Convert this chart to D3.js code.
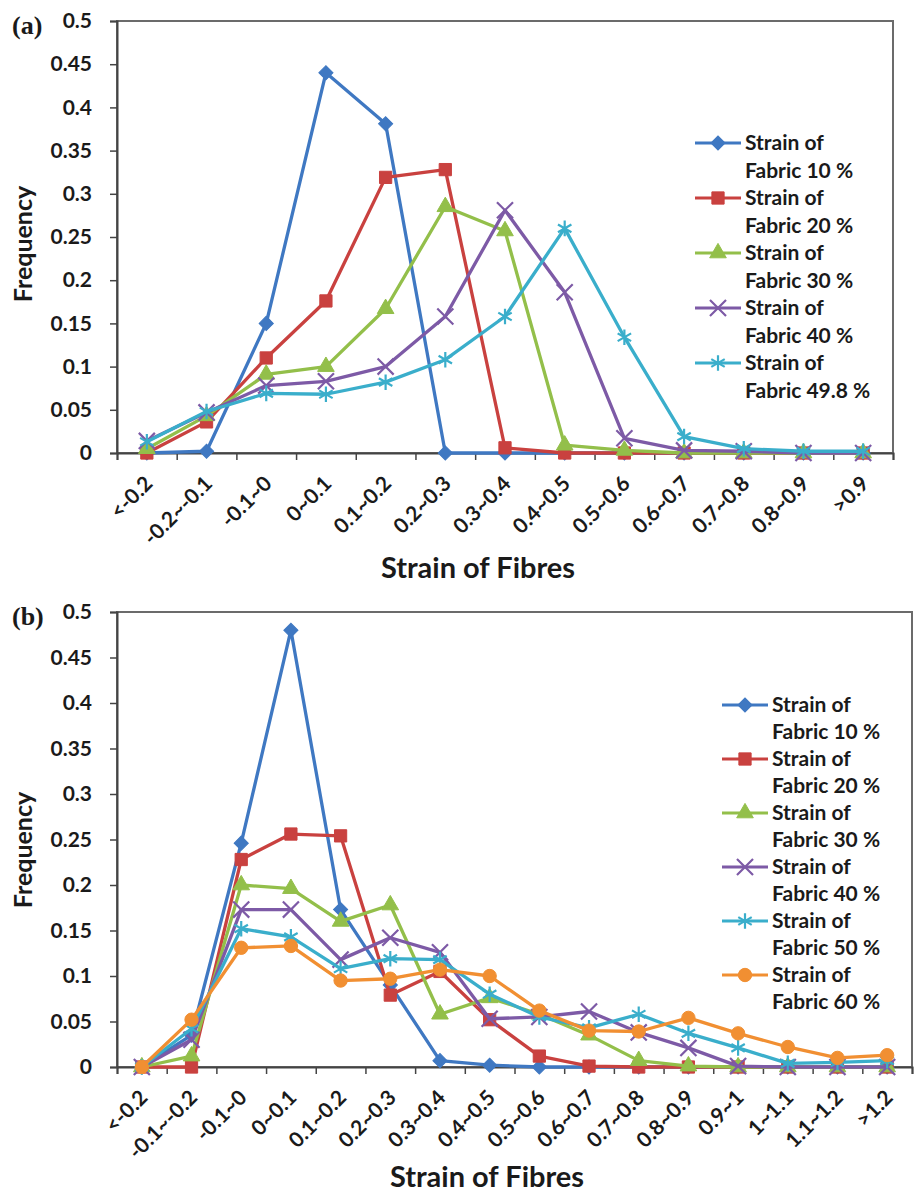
<!DOCTYPE html>
<html><head><meta charset="utf-8">
<script src="https://cdn.jsdelivr.net/npm/d3@7"></script>
<style>
html,body{margin:0;padding:0;background:#fff;}
svg{display:block;}
text{font-family:Lato, "Open Sans", sans-serif;fill:#1a1a1a;}
</style></head>
<body>
<svg id="chart" width="915" height="1192"></svg>
<script>
// ---------- data ----------
const catsA = ["<-0.2","-0.2~-0.1","-0.1~0","0~0.1","0.1~0.2","0.2~0.3","0.3~0.4","0.4~0.5","0.5~0.6","0.6~0.7","0.7~0.8","0.8~0.9",">0.9"];
const catsB = ["<-0.2","-0.1~-0.2","-0.1~0","0~0.1","0.1~0.2","0.2~0.3","0.3~0.4","0.4~0.5","0.5~0.6","0.6~0.7","0.7~0.8","0.8~0.9","0.9~1","1~1.1","1.1~1.2",">1.2"];
const yTickValues = [0,0.05,0.1,0.15,0.2,0.25,0.3,0.35,0.4,0.45,0.5];
const yTickLabels = ["0","0.05","0.1","0.15","0.2","0.25","0.3","0.35","0.4","0.45","0.5"];

const namesA = ["Fabric 10 %","Fabric 20 %","Fabric 30 %","Fabric 40 %","Fabric 49.8 %"];
const a10  = [0, 0.002, 0.15, 0.44, 0.381, 0, 0, 0, 0, 0, 0, 0, 0];
const a20  = [0, 0.036, 0.11, 0.176, 0.319, 0.328, 0.006, 0, 0, 0, 0, 0, 0];
const a30  = [0.005, 0.043, 0.091, 0.1, 0.167, 0.285, 0.257, 0.009, 0.003, 0, 0, 0, 0];
const a40  = [0.014, 0.047, 0.078, 0.083, 0.1, 0.158, 0.281, 0.186, 0.017, 0.003, 0.002, 0, 0];
const a498 = [0.013, 0.048, 0.069, 0.068, 0.082, 0.108, 0.158, 0.26, 0.134, 0.019, 0.005, 0.002, 0.002];

const namesB = ["Fabric 10 %","Fabric 20 %","Fabric 30 %","Fabric 40 %","Fabric 50 %","Fabric 60 %"];
const b10 = [0, 0.035, 0.246, 0.48, 0.173, 0.09, 0.007, 0.002, 0, 0, 0, 0, 0, 0, 0, 0];
const b20 = [0, 0, 0.228, 0.256, 0.254, 0.079, 0.105, 0.052, 0.012, 0.001, 0, 0, 0, 0, 0, 0];
const b30 = [0, 0.012, 0.2, 0.196, 0.16, 0.178, 0.058, 0.076, 0.058, 0.035, 0.007, 0.001, 0, 0, 0, 0];
const b40 = [0, 0.03, 0.173, 0.173, 0.118, 0.142, 0.126, 0.053, 0.055, 0.061, 0.038, 0.021, 0.001, 0, 0, 0];
const b50 = [0, 0.042, 0.152, 0.143, 0.108, 0.119, 0.118, 0.08, 0.055, 0.043, 0.058, 0.037, 0.021, 0.004, 0.005, 0.007];
const b60 = [0, 0.052, 0.131, 0.133, 0.095, 0.097, 0.107, 0.1, 0.062, 0.04, 0.039, 0.054, 0.037, 0.022, 0.01, 0.013];

const colors  = ["#3f78c2","#c9413f","#93bf4a","#7d5aa6","#3aaecb","#f18f32"];
const markers = ["diamond","square","triangle","times","asterisk","circle"];

// ---------- drawing ----------
const svg = d3.select("#chart");

function marker(g, type, color) {
  let gen, filled = true, rot = 0;
  if (type === "diamond") { gen = d3.symbol(d3.symbolSquare, 100); rot = 45; }
  else if (type === "square") gen = d3.symbol(d3.symbolSquare, 150);
  else if (type === "triangle") gen = d3.symbol(d3.symbolTriangle, 120);
  else if (type === "circle") gen = d3.symbol(d3.symbolCircle, 140);
  else if (type === "times") { gen = d3.symbol(d3.symbolTimes, 170); filled = false; }
  else { gen = d3.symbol(d3.symbolAsterisk, 170); filled = false; }
  g.append("path").attr("d", gen())
    .attr("transform", rot ? `rotate(${rot})` : null)
    .attr("fill", filled ? color : "none")
    .attr("stroke", color)
    .attr("stroke-width", filled ? 1 : 2.2);
}

function panel(cfg) {
  const {cats, series, names, x0, x1, y0, y1, label, legX, legY, legStep, titleX, titleY, yLabY} = cfg;
  const g = svg.append("g");
  const x = d3.scaleBand().domain(cats).range([x0, x1]).padding(0);
  const xl = d3.scaleLinear().domain([0, cats.length]).range([x0, x1]);
  const y = d3.scaleLinear().domain([0, 0.5]).range([y1, y0]);

  // frame
  g.append("rect").attr("x", x0).attr("y", y0).attr("width", x1 - x0).attr("height", y1 - y0)
    .attr("fill", "none").attr("stroke", "#6b6b6b").attr("stroke-width", 2);

  // y axis
  const ya = g.append("g").attr("transform", `translate(${x0},0)`)
    .call(d3.axisLeft(y).tickValues(yTickValues).tickFormat((d, i) => yTickLabels[i]).tickSize(7).tickPadding(18));
  ya.select(".domain").attr("stroke", "#444").attr("stroke-width", 2);
  ya.selectAll(".tick line").attr("stroke", "#444").attr("stroke-width", 1.5);
  ya.selectAll("text").style("font-size", "21px").style("font-weight", "700").attr("fill", "#1a1a1a");

  // x ticks at boundaries
  const xt = g.append("g").attr("transform", `translate(0,${y1})`)
    .call(d3.axisBottom(xl).tickValues(d3.range(0, cats.length + 1)).tickFormat("").tickSize(7));
  xt.select(".domain").attr("stroke", "#444").attr("stroke-width", 2);
  xt.selectAll(".tick line").attr("stroke", "#444").attr("stroke-width", 1.5);

  // x labels
  const xa = g.append("g").attr("transform", `translate(0,${y1})`)
    .call(d3.axisBottom(x).tickSize(0));
  xa.select(".domain").remove();
  xa.selectAll("text")
    .style("font-size", "21px").style("font-weight", "700").attr("fill", "#1a1a1a")
    .attr("text-anchor", "end").attr("y", 0).attr("dy", 0)
    .attr("transform", "translate(7,32) rotate(-45)");

  // series
  const line = d3.line().x((d, i) => x(cats[i]) + x.bandwidth() / 2).y(d => y(d));
  series.forEach((vals, s) => {
    g.append("path").datum(vals).attr("d", line).attr("fill", "none")
      .attr("stroke", colors[s]).attr("stroke-width", 3.3).attr("stroke-linejoin", "round");
    vals.forEach((v, i) => {
      const m = g.append("g").attr("transform", `translate(${x(cats[i]) + x.bandwidth() / 2},${y(v)})`);
      marker(m, markers[s], colors[s]);
    });
  });

  // legend
  names.forEach((n, s) => {
    const ly = legY + s * legStep;
    g.append("line").attr("x1", legX - 50).attr("x2", legX - 4).attr("y1", ly).attr("y2", ly)
      .attr("stroke", colors[s]).attr("stroke-width", 3.2);
    const m = g.append("g").attr("transform", `translate(${legX - 27},${ly})`);
    marker(m, markers[s], colors[s]);
    g.append("text").attr("x", legX).attr("y", ly).attr("dy", "0.35em")
      .style("font-size", "21px").style("font-weight", "700").text("Strain of");
    g.append("text").attr("x", legX).attr("y", ly + legStep / 2).attr("dy", "0.35em")
      .style("font-size", "21px").style("font-weight", "700").text(n);
  });

  // axis titles
  g.append("text").attr("x", titleX).attr("y", titleY).attr("text-anchor", "middle")
    .style("font-size", "29px").style("font-weight", "700").text("Strain of Fibres");
  g.append("text").attr("transform", `translate(32,${yLabY}) rotate(-90)`).attr("text-anchor", "middle")
    .style("font-size", "25px").style("font-weight", "700").text("Frequency");

  // panel label
  g.append("text").attr("x", 12).attr("y", y0 + 13)
    .style("font-family", "'Liberation Serif', 'DejaVu Serif', serif")
    .style("font-size", "26px").style("font-weight", "700").text(label);
}

panel({cats: catsA, series: [a10, a20, a30, a40, a498], names: namesA,
  x0: 117, x1: 893, y0: 21, y1: 453, label: "(a)",
  legX: 745, legY: 143, legStep: 55, titleX: 478, titleY: 578, yLabY: 244});

panel({cats: catsB, series: [b10, b20, b30, b40, b50, b60], names: namesB,
  x0: 117, x1: 912, y0: 612, y1: 1067, label: "(b)",
  legX: 772, legY: 705, legStep: 54, titleX: 487, titleY: 1187, yLabY: 850});
</script>
</body></html>
